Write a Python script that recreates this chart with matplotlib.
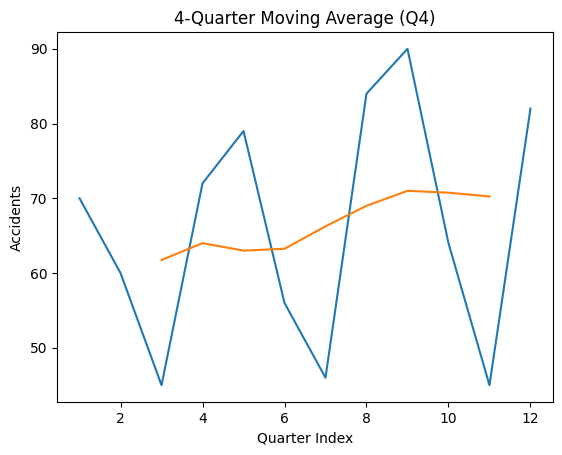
import matplotlib
matplotlib.use("Agg")
import matplotlib.pyplot as plt

quarters = list(range(1, 13))
accidents = [70, 60, 45, 72, 79, 56, 46, 84, 90, 64, 45, 82]
ma_quarters = list(range(3, 12))
moving_avg = [61.75, 64.0, 63.0, 63.25, 66.25, 69.0, 71.0, 70.75, 70.25]

fig = plt.figure(figsize=(5.62, 4.55), dpi=100)
ax = fig.add_axes([0.1014, 0.1165, 0.8826, 0.8132])
ax.plot(quarters, accidents)
ax.plot(ma_quarters, moving_avg)
ax.set_xlabel("Quarter Index")
ax.set_ylabel("Accidents")
ax.set_title("4-Quarter Moving Average (Q4)")
fig.savefig("out.png", dpi=100)
